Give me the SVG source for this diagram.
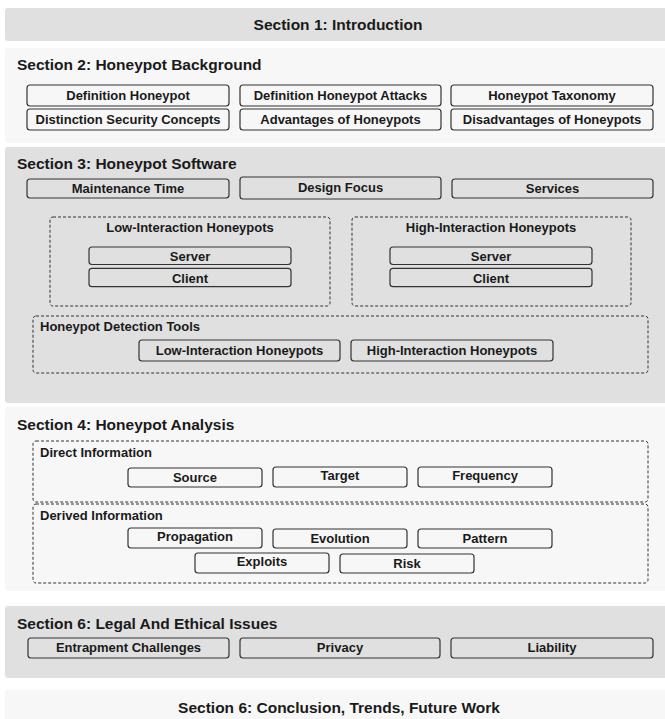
<svg xmlns="http://www.w3.org/2000/svg" width="665" height="719" viewBox="0 0 665 719">
<style>
  text { font-family: "Liberation Sans", Arial, sans-serif; font-weight: bold; fill: #1a1a1a; }
  .sec-dark { fill: #e0e0e0; }
  .sec-light { fill: #f7f7f7; }
  .title { font-size: 15.5px; }
  .lbl { font-size: 13px; text-anchor: middle; }
  .sub { font-size: 13px; }
  .box { fill: none; stroke: #333; stroke-width: 1.2; }
  .dash { fill: none; stroke: #333; stroke-width: 1; stroke-dasharray: 3 2; }
</style>
<rect width="665" height="719" fill="#ffffff"/>

<g id="section1">
  <rect class="sec-dark" x="5" y="8" width="700" height="33" rx="3"/>
  <text class="title" x="338" y="30" text-anchor="middle">Section 1: Introduction</text>
</g>

<g id="section2">
  <rect class="sec-light" x="5" y="48" width="700" height="95" rx="3"/>
  <text class="title" x="17" y="70">Section 2: Honeypot Background</text>
  <g id="definition-honeypot"><rect class="box" x="27" y="85" width="202" height="21" rx="3"/><text class="lbl" x="128" y="99.5">Definition Honeypot</text></g>
  <g id="definition-honeypot-attacks"><rect class="box" x="240" y="85" width="201" height="21" rx="3"/><text class="lbl" x="340.5" y="99.5">Definition Honeypot Attacks</text></g>
  <g id="honeypot-taxonomy"><rect class="box" x="451" y="85" width="202" height="21" rx="3"/><text class="lbl" x="552" y="99.5">Honeypot Taxonomy</text></g>
  <g id="distinction-security-concepts"><rect class="box" x="27" y="109" width="202" height="21" rx="3"/><text class="lbl" x="128" y="123.5">Distinction Security Concepts</text></g>
  <g id="advantages-of-honeypots"><rect class="box" x="240" y="109" width="201" height="21" rx="3"/><text class="lbl" x="340.5" y="123.5">Advantages of Honeypots</text></g>
  <g id="disadvantages-of-honeypots"><rect class="box" x="451" y="109" width="202" height="21" rx="3"/><text class="lbl" x="552" y="123.5">Disadvantages of Honeypots</text></g>
</g>

<g id="section3">
  <rect class="sec-dark" x="5" y="147" width="700" height="256" rx="3"/>
  <text class="title" x="17" y="169">Section 3: Honeypot Software</text>
  <g id="maintenance-time"><rect class="box" x="27" y="179" width="202" height="19" rx="3"/><text class="lbl" x="128" y="193">Maintenance Time</text></g>
  <g id="design-focus"><rect class="box" x="240" y="177" width="201" height="22" rx="3"/><text class="lbl" x="340.5" y="191.5">Design Focus</text></g>
  <g id="services"><rect class="box" x="452" y="179" width="201" height="19" rx="3"/><text class="lbl" x="552.5" y="193">Services</text></g>

  <g id="low-interaction-honeypots">
    <rect class="dash" x="50" y="217" width="280" height="89" rx="3"/>
    <text class="lbl" x="190" y="232">Low-Interaction Honeypots</text>
    <g id="low-server"><rect class="box" x="89" y="247" width="202" height="17.5" rx="3"/><text class="lbl" x="190" y="260.5">Server</text></g>
    <g id="low-client"><rect class="box" x="89" y="268.3" width="202" height="18.4" rx="3"/><text class="lbl" x="190" y="282.5">Client</text></g>
  </g>
  <g id="high-interaction-honeypots">
    <rect class="dash" x="352" y="217" width="279" height="89" rx="3"/>
    <text class="lbl" x="491" y="232">High-Interaction Honeypots</text>
    <g id="high-server"><rect class="box" x="390" y="247" width="202" height="17.5" rx="3"/><text class="lbl" x="491" y="260.5">Server</text></g>
    <g id="high-client"><rect class="box" x="390" y="268.3" width="202" height="18.4" rx="3"/><text class="lbl" x="491" y="282.5">Client</text></g>
  </g>
  <g id="honeypot-detection-tools">
    <rect class="dash" x="33" y="316" width="615" height="57" rx="3"/>
    <text class="sub" x="40" y="331">Honeypot Detection Tools</text>
    <g id="detect-low"><rect class="box" x="139" y="340" width="201" height="21" rx="3"/><text class="lbl" x="239.5" y="354.5">Low-Interaction Honeypots</text></g>
    <g id="detect-high"><rect class="box" x="351" y="340" width="202" height="21" rx="3"/><text class="lbl" x="452" y="354.5">High-Interaction Honeypots</text></g>
  </g>
</g>

<g id="section4">
  <rect class="sec-light" x="5" y="407" width="700" height="184" rx="3"/>
  <text class="title" x="17" y="430">Section 4: Honeypot Analysis</text>
  <g id="direct-information">
    <rect class="dash" x="33" y="441" width="615" height="61" rx="3"/>
    <text class="sub" x="40" y="457">Direct Information</text>
    <g id="source"><rect class="box" x="128" y="468" width="134" height="19" rx="3"/><text class="lbl" x="195" y="482">Source</text></g>
    <g id="target"><rect class="box" x="273" y="467" width="134" height="20" rx="3"/><text class="lbl" x="340" y="479.5">Target</text></g>
    <g id="frequency"><rect class="box" x="418" y="467" width="134" height="20" rx="3"/><text class="lbl" x="485" y="479.5">Frequency</text></g>
  </g>
  <g id="derived-information">
    <rect class="dash" x="33" y="504" width="615" height="79" rx="3"/>
    <text class="sub" x="40" y="520">Derived Information</text>
    <g id="propagation"><rect class="box" x="128" y="528" width="134" height="20" rx="3"/><text class="lbl" x="195" y="540.5">Propagation</text></g>
    <g id="evolution"><rect class="box" x="273" y="529" width="134" height="19" rx="3"/><text class="lbl" x="340" y="543">Evolution</text></g>
    <g id="pattern"><rect class="box" x="418" y="529" width="134" height="19" rx="3"/><text class="lbl" x="485" y="543">Pattern</text></g>
    <g id="exploits"><rect class="box" x="195" y="553" width="134" height="20" rx="3"/><text class="lbl" x="262" y="565.5">Exploits</text></g>
    <g id="risk"><rect class="box" x="340" y="554" width="134" height="19" rx="3"/><text class="lbl" x="407" y="568">Risk</text></g>
  </g>
</g>

<g id="section-legal">
  <rect class="sec-dark" x="5" y="606" width="700" height="72" rx="3"/>
  <text class="title" x="17" y="629">Section 6: Legal And Ethical Issues</text>
  <g id="entrapment-challenges"><rect class="box" x="28" y="638" width="201" height="20" rx="3"/><text class="lbl" x="128.5" y="652">Entrapment Challenges</text></g>
  <g id="privacy"><rect class="box" x="240" y="638" width="200" height="20" rx="3"/><text class="lbl" x="340" y="652">Privacy</text></g>
  <g id="liability"><rect class="box" x="451" y="638" width="202" height="20" rx="3"/><text class="lbl" x="552" y="652">Liability</text></g>
</g>

<g id="section-conclusion">
  <rect class="sec-light" x="5" y="690" width="700" height="40" rx="3"/>
  <text class="title" x="339" y="713" text-anchor="middle">Section 6: Conclusion, Trends, Future Work</text>
</g>
</svg>
